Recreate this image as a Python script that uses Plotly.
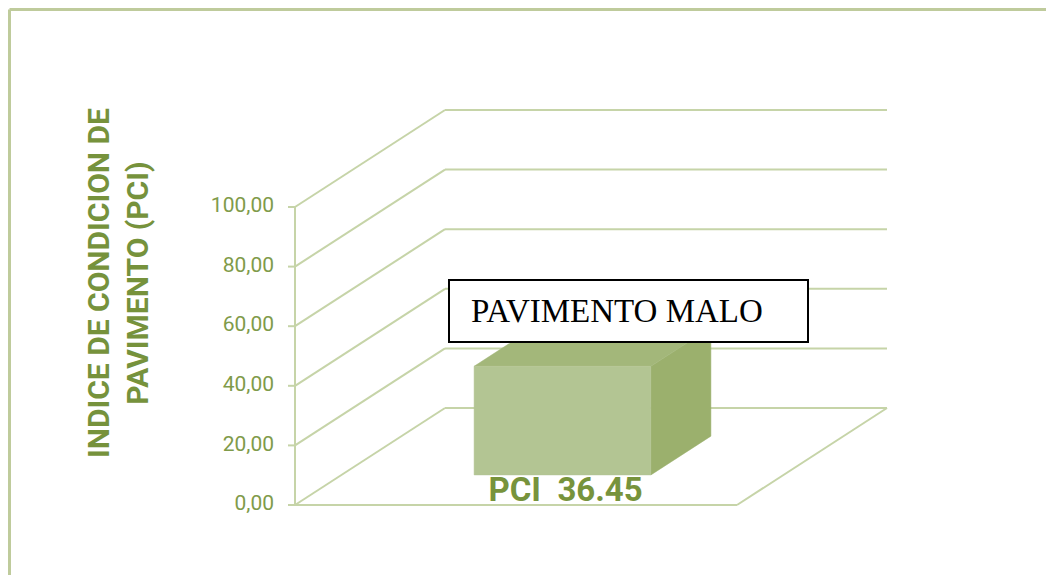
import plotly.graph_objects as go

# ---- data ----
categories = ["PCI"]
pci_values = [36.45]
y_ticks = [0, 20, 40, 60, 80, 100]
y_tick_labels = ["0,00", "20,00", "40,00", "60,00", "80,00", "100,00"]
bar_label = "PCI  36.45"
status_text = "PAVIMENTO MALO"
axis_title = "INDICE DE CONDICION DE<br>PAVIMENTO (PCI)"

# ---- layout / projection constants ----
PAGE_OFF = 8                       # default body margin of the html page
W, H = 1054 - PAGE_OFF, 575 - PAGE_OFF
PX_PER_UNIT_Y = 59.6 / 20.0        # pixels per value unit
X0_PX, X1_PX = 295.0 - PAGE_OFF, 737.0 - PAGE_OFF
ZERO_PX = 505.0 - PAGE_OFF
DEPTH_DX_PX, DEPTH_DY_PX = 150.0, 97.0

cat_w_px = X1_PX - X0_PX
DX = DEPTH_DX_PX / cat_w_px
DY = DEPTH_DY_PX / PX_PER_UNIT_Y
x_range = [-X0_PX / cat_w_px, (W - X0_PX) / cat_w_px]
y_range = [-(H - ZERO_PX) / PX_PER_UNIT_Y, ZERO_PX / PX_PER_UNIT_Y]


def px(x):   # reference pixel x -> paper
    return (x - PAGE_OFF) / W


def py(y):   # reference pixel y -> paper
    return 1 - (y - PAGE_OFF) / H


def proj(u, v, d):
    return u + d * DX, v + d * DY


GRID = "#c6d4a8"
fig = go.Figure()
shapes = []


def line(p, q, color=GRID, width=2, layer="below"):
    shapes.append(dict(type="line", xref="x", yref="y", x0=p[0], y0=p[1],
                       x1=q[0], y1=q[1], line=dict(color=color, width=width),
                       layer=layer))


ymax = max(y_ticks)
for t in y_ticks:
    line(proj(0, t, 1), proj(1, t, 1))
    line(proj(0, t, 0), proj(0, t, 1))
line(proj(0, 0, 0), proj(1, 0, 0))
line(proj(1, 0, 0), proj(1, 0, 1))
line(proj(0, 0, 0), proj(0, ymax, 0))
tick_len = 7.0 / cat_w_px
for t in y_ticks:
    a = proj(0, t, 0)
    line((a[0] - tick_len, a[1]), a)

fig.add_trace(go.Scatter(
    x=[proj(0, t, 0)[0] - 21.0 / cat_w_px for t in y_ticks],
    y=y_ticks, mode="text", text=y_tick_labels, textposition="middle left",
    textfont=dict(family="Roboto", size=21, color="#7f9b4a"),
    hoverinfo="skip", showlegend=False, cliponaxis=False))

bar_u0, bar_u1 = 0.3, 0.7
bar_d0, bar_d1 = 0.31, 0.71


def poly(pts, color):
    xs = [p[0] for p in pts] + [pts[0][0]]
    ys = [p[1] for p in pts] + [pts[0][1]]
    fig.add_trace(go.Scatter(x=xs, y=ys, mode="lines", fill="toself",
                             fillcolor=color, line=dict(color=color, width=0.5),
                             hoverinfo="skip", showlegend=False))


for cat, h in zip(categories, pci_values):
    front = [proj(bar_u0, 0, bar_d0), proj(bar_u1, 0, bar_d0),
             proj(bar_u1, h, bar_d0), proj(bar_u0, h, bar_d0)]
    side = [proj(bar_u1, 0, bar_d0), proj(bar_u1, 0, bar_d1),
            proj(bar_u1, h, bar_d1), proj(bar_u1, h, bar_d0)]
    top = [proj(bar_u0, h, bar_d0), proj(bar_u1, h, bar_d0),
           proj(bar_u1, h, bar_d1), proj(bar_u0, h, bar_d1)]
    poly(side, "#9bb06d")
    poly(top, "#a3b77a")
    poly(front, "#b3c593")
    lx, ly = proj((bar_u0 + bar_u1) / 2, 0, bar_d0)
    fig.add_trace(go.Scatter(
        x=[lx + 0.007], y=[ly - 6.0], mode="text", text=[bar_label],
        textposition="middle center",
        textfont=dict(family="Roboto", size=33, color="#77933c", weight="bold"),
        hoverinfo="skip", showlegend=False, cliponaxis=False))

shapes.append(dict(type="rect", xref="paper", yref="paper",
                   x0=px(449), x1=px(808), y0=py(342), y1=py(280),
                   line=dict(color="black", width=2), fillcolor="white",
                   layer="above"))
FRAME = "#bfcb9c"
shapes.append(dict(type="line", xref="paper", yref="paper", x0=px(9.5), x1=1,
                   y0=py(9.5), y1=py(9.5), line=dict(color=FRAME, width=3)))
shapes.append(dict(type="line", xref="paper", yref="paper", x0=px(9.5),
                   x1=px(9.5), y0=0, y1=py(9.5), line=dict(color=FRAME, width=3)))

annotations = [
    dict(xref="paper", yref="paper", x=px(469), y=py(311),
         xanchor="left", yanchor="middle", text=status_text, showarrow=False,
         font=dict(family="Liberation Serif", size=33, color="black")),
    dict(xref="paper", yref="paper", x=px(118), y=py(283),
         xanchor="center", yanchor="middle", text=axis_title, showarrow=False,
         textangle=-90,
         font=dict(family="Roboto", size=30, color="#76923c", weight="bold")),
]

fig.update_layout(
    width=W, height=H, margin=dict(l=0, r=0, t=0, b=0),
    paper_bgcolor="white", plot_bgcolor="white",
    xaxis=dict(range=x_range, visible=False, fixedrange=True),
    yaxis=dict(range=y_range, visible=False, fixedrange=True),
    shapes=shapes, annotations=annotations, showlegend=False,
)

fig.write_html("out.html")
